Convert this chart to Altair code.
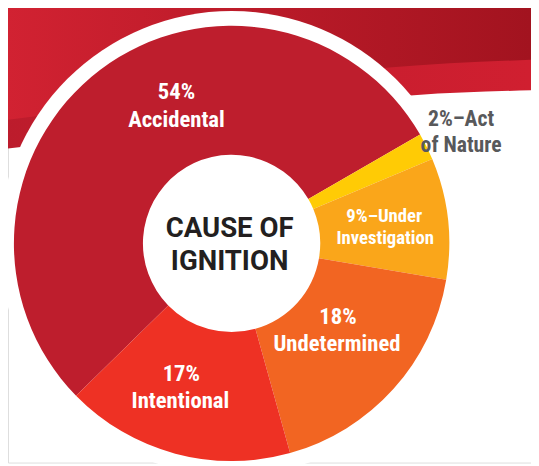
import math
import altair as alt
import pandas as pd

# ---- data ----
categories = ["Accidental", "Act of Nature", "Under Investigation", "Undetermined", "Intentional"]
values = [54, 2, 9, 18, 17]
colors = ["#BE1E2D", "#FFCB05", "#FAA61A", "#F26522", "#EE3124"]
label_lines = [
    ["54%", "Accidental"],
    ["2%\u2013Act", "of Nature"],
    ["9%\u2013Under", "Investigation"],
    ["18%", "Undetermined"],
    ["17%", "Intentional"],
]
title_lines = ["CAUSE OF", "IGNITION"]

# ---- decorative swoosh outlines (background shape) ----
swoosh_upper_x = [0, 40, 230, 395, 539]
swoosh_upper_y = [119, 114, 85, 65, 57]
swoosh_lower_x = [0, 60, 250, 420, 539]
swoosh_lower_y = [148, 141, 112, 93, 88]

# ---- layout (reference pixel space; page margin 8px) ----
OFF = 8
W, H = 539 - OFF, 466 - OFF
CX, CY = 235, 243.5
R_OUT, R_IN, R_RING = 221, 90, 236
START = math.radians(225.6)
label_pos = [
    [(179, 97), (179, 125)],
    [(468, 124), (468, 151)],
    [(390, 222), (391, 244)],
    [(343, 325), (342, 353)],
    [(184, 383), (183, 411)],
]
label_size = [23, 22, 19, 23, 23]
label_color = ["white", "#58595B", "white", "white", "white"]
title_pos = [(233, 237), (233, 270)]
FONT = "Roboto Condensed, Liberation Sans Narrow, DejaVu Sans Condensed, Roboto"

xs = alt.Scale(domain=[OFF, 539], nice=False, zero=False)
ys = alt.Scale(domain=[OFF, 466], nice=False, zero=False, reverse=True)

def grad(c0, c1):
    return alt.Gradient(
        gradient="linear",
        stops=[alt.GradientStop(color=c0, offset=0), alt.GradientStop(color=c1, offset=1)],
        x1=0, x2=1, y1=0, y2=0,
    )

lower = pd.DataFrame({"x": swoosh_lower_x, "y": swoosh_lower_y})
upper = pd.DataFrame({"x": swoosh_upper_x, "y": swoosh_upper_y})

bg_lower = alt.Chart(lower).mark_area(color=grad("#BC1C2C", "#D01F30"), interpolate="monotone").encode(
    x=alt.X("x:Q", scale=xs, axis=None),
    y=alt.Y("y:Q", scale=ys, axis=None),
    y2=alt.Y2(datum=0),
)
bg_upper = alt.Chart(upper).mark_area(color=grad("#D22232", "#A2131F"), interpolate="monotone").encode(
    x=alt.X("x:Q", scale=xs, axis=None),
    y=alt.Y("y:Q", scale=ys, axis=None),
    y2=alt.Y2(datum=0),
)

pie_df = pd.DataFrame({"cat": categories, "value": values, "idx": list(range(len(values)))})

ring = alt.Chart(pie_df.head(1)).mark_arc(
    theta=0, theta2=2 * math.pi, outerRadius=R_RING, innerRadius=0, color="white"
).encode(
    x=alt.X(datum=CX, type="quantitative", scale=xs, axis=None),
    y=alt.Y(datum=CY, type="quantitative", scale=ys, axis=None),
)

pie = alt.Chart(pie_df).mark_arc(outerRadius=R_OUT, innerRadius=R_IN).encode(
    x=alt.X(datum=CX, type="quantitative", scale=xs, axis=None),
    y=alt.Y(datum=CY, type="quantitative", scale=ys, axis=None),
    theta=alt.Theta("value:Q", stack=True, scale=alt.Scale(range=[START, START + 2 * math.pi])),
    order=alt.Order("idx:Q"),
    color=alt.Color("cat:N", scale=alt.Scale(domain=categories, range=colors), legend=None),
)

layers = [bg_lower, bg_upper, ring, pie]

for lines, pos, size, col in zip(label_lines, label_pos, label_size, label_color):
    df = pd.DataFrame({"t": lines, "x": [p[0] for p in pos], "y": [p[1] for p in pos]})
    layers.append(
        alt.Chart(df).mark_text(font=FONT, fontWeight="bold", fontSize=size, color=col,
                                align="center", baseline="alphabetic").encode(
            x=alt.X("x:Q", scale=xs, axis=None),
            y=alt.Y("y:Q", scale=ys, axis=None),
            text="t:N",
        )
    )

tdf = pd.DataFrame({"t": title_lines, "x": [p[0] for p in title_pos], "y": [p[1] for p in title_pos]})
layers.append(
    alt.Chart(tdf).mark_text(font="Roboto", fontWeight="bold", fontSize=28, color="#231F20",
                             align="center", baseline="alphabetic").encode(
        x=alt.X("x:Q", scale=xs, axis=None),
        y=alt.Y("y:Q", scale=ys, axis=None),
        text="t:N",
    )
)

chart = alt.layer(*layers).properties(width=W, height=H, padding=0, autosize="none").configure_view(
    stroke=None
).configure(background="white")

chart.save("out.html", embed_options={"renderer": "svg", "actions": False})
